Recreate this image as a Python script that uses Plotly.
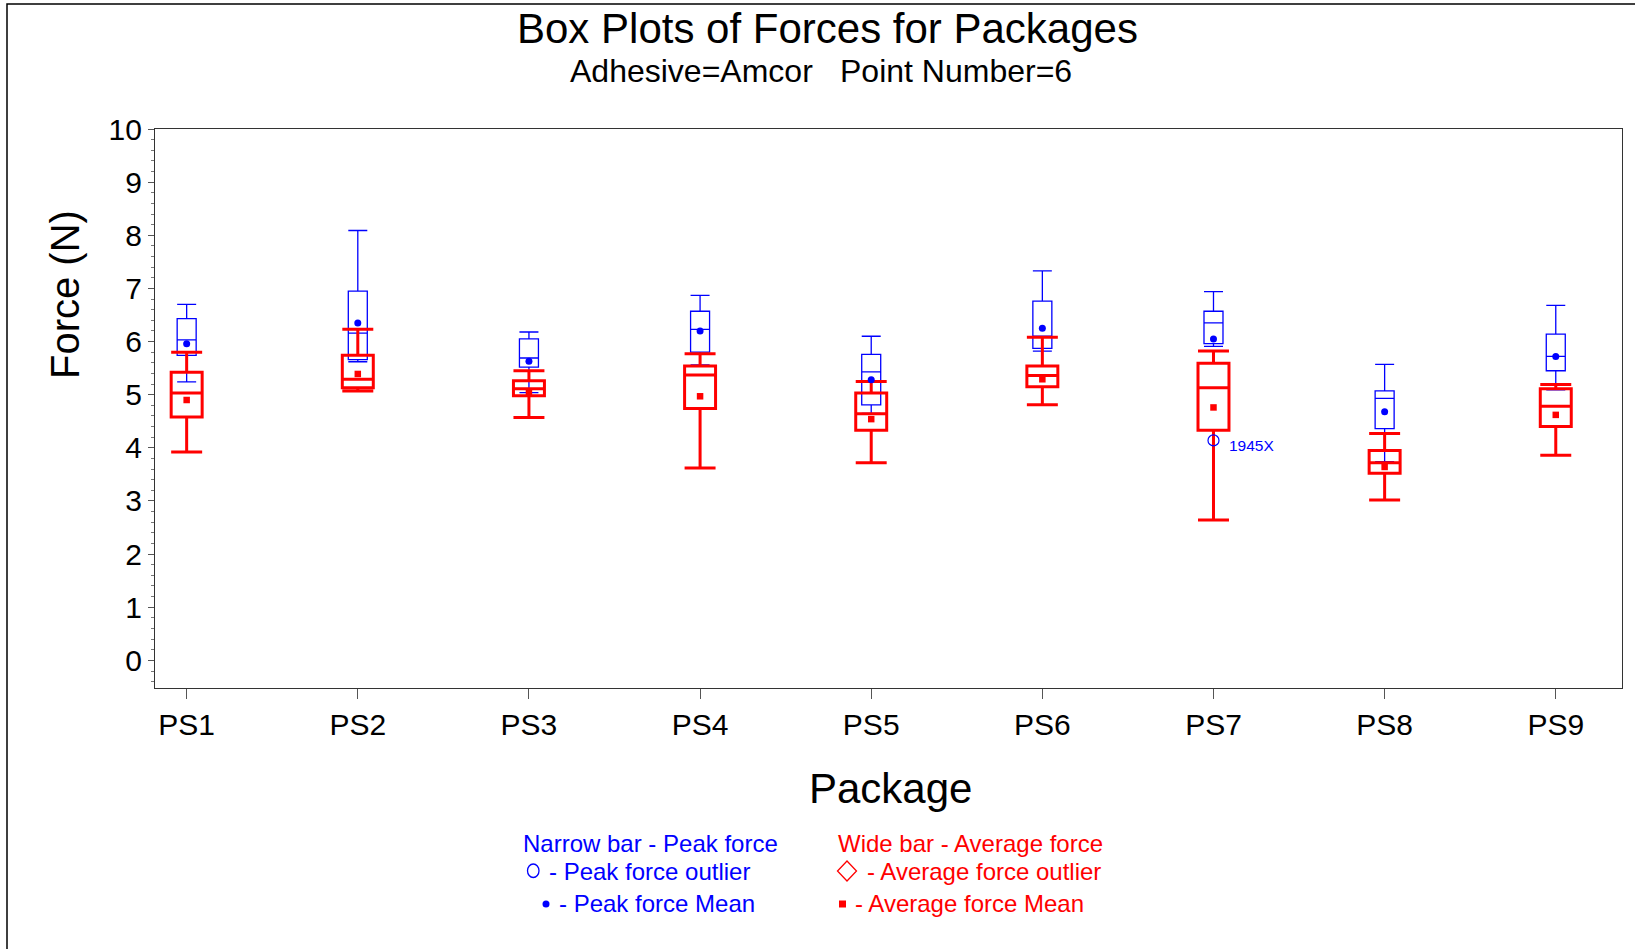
import plotly.graph_objects as go

# ---------------- data ----------------
categories = ["PS1", "PS2", "PS3", "PS4", "PS5", "PS6", "PS7", "PS8", "PS9"]
xpos = list(range(len(categories)))

# Peak force (narrow blue boxes)
peak_lo   = [5.24, 5.62, 5.04, 5.56, 4.65, 5.82, 5.91, 3.74, 5.09]
peak_q1   = [5.74, 5.66, 5.52, 5.80, 4.81, 5.87, 5.96, 4.36, 5.45]
peak_med  = [6.03, 6.16, 5.69, 6.23, 5.43, 6.10, 6.35, 4.93, 5.72]
peak_q3   = [6.43, 6.95, 6.05, 6.57, 5.76, 6.76, 6.57, 5.07, 6.14]
peak_hi   = [6.70, 8.09, 6.18, 6.87, 6.10, 7.33, 6.94, 5.57, 6.68]
peak_mean = [5.96, 6.35, 5.63, 6.20, 5.28, 6.25, 6.05, 4.68, 5.72]

# Average force (wide red boxes)
avg_lo   = [3.92, 5.07, 4.57, 3.62, 3.72, 4.81, 2.64, 3.02, 3.86]
avg_q1   = [4.58, 5.13, 4.98, 4.74, 4.33, 5.15, 4.33, 3.52, 4.40]
avg_med  = [5.03, 5.29, 5.11, 5.37, 4.64, 5.36, 5.13, 3.72, 4.78]
avg_q3   = [5.42, 5.74, 5.26, 5.54, 5.03, 5.54, 5.59, 3.95, 5.11]
avg_hi   = [5.80, 6.23, 5.45, 5.77, 5.25, 6.08, 5.82, 4.27, 5.19]
avg_mean = [4.90, 5.39, 5.03, 4.97, 4.54, 5.29, 4.76, 3.64, 4.62]

# Peak force outlier
outlier_cat = ["PS7"]
outlier_val = [4.14]
outlier_lbl = ["1945X"]

y_ticks = list(range(0, 11))

# ---------------- layout geometry ----------------
PW, PH = 1635, 949
L, R, T, B = 155, 13, 129, 261
FONT = "Liberation Sans, Arial, Helvetica, sans-serif"
BLUE = "#0000FF"
RED = "#FF0000"


def px(x):
    return (x - L) / (PW - L - R)


def py(y):
    return (PH - B - y) / (PH - T - B)


fig = go.Figure()

fig.add_trace(go.Box(
    x=xpos, q1=peak_q1, median=peak_med, q3=peak_q3,
    lowerfence=peak_lo, upperfence=peak_hi,
    width=0.111, whiskerwidth=1, boxpoints=False,
    line=dict(color=BLUE, width=1.3), fillcolor="rgba(0,0,0,0)",
    showlegend=False, hoverinfo="skip"))

fig.add_trace(go.Scatter(
    x=xpos, y=peak_mean, mode="markers",
    marker=dict(symbol="circle", size=7, color=BLUE),
    showlegend=False, hoverinfo="skip"))

fig.add_trace(go.Box(
    x=xpos, q1=avg_q1, median=avg_med, q3=avg_q3,
    lowerfence=avg_lo, upperfence=avg_hi,
    width=0.181, whiskerwidth=1, boxpoints=False,
    line=dict(color=RED, width=3), fillcolor="rgba(0,0,0,0)",
    showlegend=False, hoverinfo="skip"))

fig.add_trace(go.Scatter(
    x=xpos, y=avg_mean, mode="markers",
    marker=dict(symbol="square", size=6.5, color=RED),
    showlegend=False, hoverinfo="skip"))

out_x = [categories.index(c) for c in outlier_cat]
fig.add_trace(go.Scatter(
    x=out_x, y=outlier_val, mode="markers",
    marker=dict(symbol="circle-open", size=11, color=BLUE, line=dict(width=1.2)),
    showlegend=False, hoverinfo="skip"))

annotations = []
for xo, yo, lb in zip(out_x, outlier_val, outlier_lbl):
    annotations.append(dict(x=xo, y=yo, xref="x", yref="y", text=lb,
                            showarrow=False, xanchor="left", yanchor="middle",
                            xshift=14, yshift=-5,
                            font=dict(family=FONT, size=15.5, color=BLUE)))


def ann(text, x, y, size, color="black", xanchor="center", angle=0):
    annotations.append(dict(x=px(x), y=py(y), xref="paper", yref="paper",
                            text=text, showarrow=False, xanchor=xanchor,
                            yanchor="middle", textangle=angle,
                            font=dict(family=FONT, size=size, color=color)))


ann("Box Plots of Forces for Packages", 827, 29, 42)
ann("Adhesive=Amcor", 691, 71, 32)
ann("Point Number=6", 956, 71, 32)
ann("Package", 890, 788, 42)
ann("Force (N)", 65, 295, 40, angle=-90)

ann("Narrow bar - Peak force", 521, 843, 24, BLUE, "left")
ann("- Peak force outlier", 547, 871, 24, BLUE, "left")
ann("- Peak force Mean", 557, 904, 24, BLUE, "left")
ann("Wide bar - Average force", 836, 843, 24, RED, "left")
ann("- Average force outlier", 865, 871, 24, RED, "left")
ann("- Average force Mean", 853, 904, 24, RED, "left")

shapes = []
# page border (cut at right and bottom edges)
shapes.append(dict(type="rect", xref="paper", yref="paper",
                   x0=px(7), x1=px(PW + 20), y0=py(4), y1=py(PH + 20),
                   line=dict(color="black", width=1.5)))
# legend symbols
shapes.append(dict(type="circle", xref="paper", yref="paper",
                   x0=px(527.5), x1=px(539), y0=py(864), y1=py(877.5),
                   line=dict(color=BLUE, width=1.3)))
cx, cy = 847, 871
dpath = "M {} {} L {} {} L {} {} L {} {} Z".format(
    px(cx), py(cy - 10), px(cx + 9.5), py(cy), px(cx), py(cy + 10), px(cx - 9.5), py(cy))
shapes.append(dict(type="path", xref="paper", yref="paper", path=dpath,
                   line=dict(color=RED, width=1.3)))
shapes.append(dict(type="circle", xref="paper", yref="paper",
                   x0=px(542.5), x1=px(549.5), y0=py(900.5), y1=py(907.5),
                   fillcolor=BLUE, line=dict(color=BLUE, width=0)))
shapes.append(dict(type="rect", xref="paper", yref="paper",
                   x0=px(839), x1=px(846), y0=py(900.5), y1=py(907.5),
                   fillcolor=RED, line=dict(color=RED, width=0)))

fig.update_layout(
    width=PW, height=PH,
    margin=dict(l=L, r=R, t=T, b=B, pad=0),
    paper_bgcolor="white", plot_bgcolor="white",
    boxmode="overlay",
    showlegend=False,
    font=dict(family=FONT, color="black"),
    annotations=annotations,
    shapes=shapes,
    xaxis=dict(range=[-0.185, 8.387], tickvals=xpos, ticktext=categories,
               showgrid=False, zeroline=False, showline=True, linecolor="#333333",
               linewidth=1.2, mirror=True, ticks="outside", ticklen=10,
               tickwidth=1.2, tickcolor="#555555",
               tickfont=dict(family=FONT, size=30, color="black")),
    yaxis=dict(range=[-0.52, 10], tickvals=y_ticks,
               showgrid=False, zeroline=False, showline=True, linecolor="#333333",
               linewidth=1.2, mirror=True, ticks="outside", ticklen=6,
               tickwidth=1.2, tickcolor="#555555",
               tickfont=dict(family=FONT, size=30, color="black"),
               minor=dict(dtick=0.2, ticks="outside", ticklen=3, tickwidth=1,
                          tickcolor="#777777", showgrid=False)),
)

fig.write_html("out.html", config={"displayModeBar": False},
               post_script="document.body.style.margin='0';")
